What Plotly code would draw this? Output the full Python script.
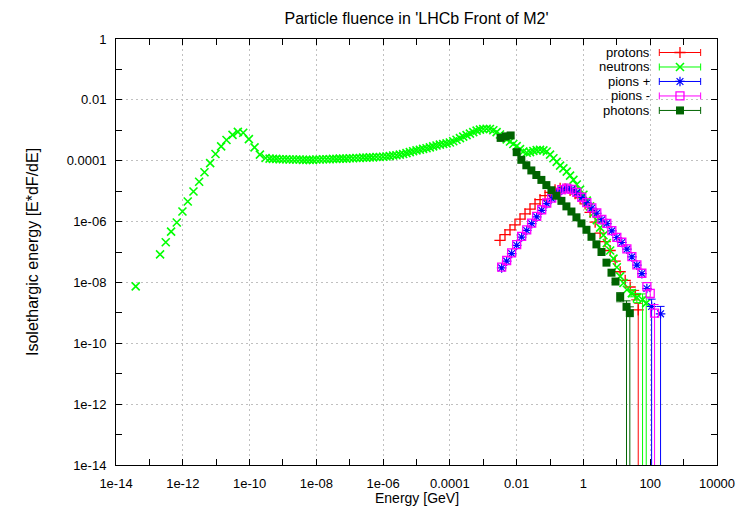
import plotly.graph_objects as go

# ---------------- data ----------------
neutron_energy = [
    3.89e-14, 2.09e-13, 3.09e-13, 4.47e-13, 6.61e-13, 9.77e-13, 1.41e-12, 2.09e-12, 3.09e-12, 4.47e-12,
    6.61e-12, 9.55e-12, 1.41e-11, 2.04e-11, 3.09e-11, 4.47e-11, 6.46e-11, 9.55e-11, 1.41e-10, 2.04e-10,
    3.02e-10,
    3.98e-10, 5.01e-10, 6.31e-10, 7.94e-10, 1.00e-9, 1.26e-9, 1.58e-9, 2.00e-9, 2.51e-9, 3.16e-9,
    3.98e-9, 5.01e-9, 6.31e-9, 7.94e-9, 1.00e-8, 1.26e-8, 1.58e-8, 2.00e-8, 2.51e-8, 3.16e-8,
    3.98e-8, 5.01e-8, 6.31e-8, 7.94e-8, 1.00e-7, 1.26e-7, 1.58e-7, 2.00e-7, 2.51e-7, 3.16e-7,
    3.98e-7, 5.01e-7, 6.31e-7, 7.94e-7, 1.00e-6,
    1.26e-6, 1.58e-6, 2.00e-6, 2.51e-6, 3.16e-6, 3.98e-6, 5.01e-6, 6.31e-6, 7.94e-6, 1.00e-5,
    1.26e-5, 1.58e-5, 2.00e-5, 2.51e-5, 3.16e-5, 3.98e-5, 5.01e-5, 6.31e-5, 7.94e-5, 1.00e-4,
    1.26e-4, 1.58e-4, 2.00e-4, 2.51e-4, 3.16e-4, 3.98e-4, 5.01e-4, 6.31e-4, 7.94e-4, 1.00e-3,
    1.26e-3, 1.58e-3, 2.00e-3, 2.51e-3, 3.16e-3, 3.98e-3, 5.01e-3, 6.31e-3, 7.94e-3, 1.00e-2,
    1.26e-2, 1.58e-2, 2.00e-2, 2.51e-2, 3.16e-2, 3.98e-2, 5.01e-2, 6.31e-2, 7.94e-2, 0.100,
    0.126, 0.158, 0.200, 0.251, 0.316, 0.398, 0.501, 0.631, 0.794, 1.00,
    1.26, 1.58, 2.00, 2.51, 3.16, 3.98, 5.01, 6.31, 7.94, 10.0,
    12.6, 15.8, 20.0,
]
neutron_fluence = [
    7.41e-9, 8.32e-8, 2.09e-7, 4.68e-7, 9.33e-7, 2.14e-6, 4.57e-6, 9.77e-6, 2.04e-5, 4.17e-5,
    8.32e-5, 1.66e-4, 2.95e-4, 4.79e-4, 7.08e-4, 8.91e-4, 8.32e-4, 5.13e-4, 2.75e-4, 1.58e-4,
    1.23e-4,
    1.17e-4, 1.15e-4, 1.15e-4, 1.12e-4, 1.12e-4, 1.12e-4, 1.10e-4, 1.10e-4, 1.10e-4, 1.10e-4,
    1.07e-4, 1.07e-4, 1.07e-4, 1.07e-4, 1.10e-4, 1.10e-4, 1.12e-4, 1.12e-4, 1.12e-4, 1.15e-4,
    1.15e-4, 1.17e-4, 1.17e-4, 1.17e-4, 1.20e-4, 1.20e-4, 1.23e-4, 1.23e-4, 1.26e-4, 1.26e-4,
    1.29e-4, 1.29e-4, 1.32e-4, 1.32e-4, 1.35e-4,
    1.38e-4, 1.41e-4, 1.48e-4, 1.51e-4, 1.58e-4, 1.66e-4, 1.78e-4, 1.91e-4, 2.04e-4, 2.19e-4,
    2.29e-4, 2.45e-4, 2.57e-4, 2.75e-4, 2.95e-4, 3.16e-4, 3.39e-4, 3.55e-4, 3.72e-4, 3.98e-4,
    4.37e-4, 4.90e-4, 5.50e-4, 6.17e-4, 6.92e-4, 7.76e-4, 8.71e-4, 9.77e-4, 1.05e-3, 1.10e-3,
    1.12e-3, 1.10e-3, 1.00e-3, 8.71e-4, 7.24e-4, 6.03e-4, 5.01e-4, 4.27e-4, 3.55e-4, 3.02e-4,
    2.40e-4, 2.00e-4, 1.82e-4, 1.91e-4, 2.09e-4, 2.24e-4, 2.29e-4, 2.19e-4, 2.00e-4, 1.58e-4,
    1.20e-4, 9.12e-5, 6.92e-5, 5.62e-5, 4.37e-5, 3.24e-5, 2.34e-5, 1.66e-5, 1.12e-5, 7.59e-6,
    4.90e-6, 3.16e-6, 1.91e-6, 1.12e-6, 6.31e-7, 3.55e-7, 1.95e-7, 1.12e-7, 6.03e-8, 3.16e-8,
    1.58e-8, 9.55e-9, 5.75e-9,
]
neutron_tail_energy = [28.2, 39.8, 58.9, 75.9]
neutron_tail_fluence = [4.47e-9, 3.16e-9, 2.69e-9, 2.09e-9]
neutron_tail_err_plus = [1.3e-9, 1.2e-9, 1.5e-9, 1.2e-9]
neutron_tail_err_minus = [1.1e-9, 1.0e-9, 2.69e-9, 2.09e-9]

proton_energy = [
    3.16e-3, 4.47e-3, 6.31e-3, 8.91e-3, 1.26e-2, 1.78e-2, 2.51e-2, 3.55e-2, 5.01e-2, 7.08e-2,
    0.100, 0.141, 0.200, 0.282, 0.398, 0.562, 0.794, 1.12, 1.58, 2.24,
    3.16, 4.47, 6.31, 8.91, 12.6, 17.8, 25.1,
]
proton_fluence = [
    2.40e-7, 3.72e-7, 5.37e-7, 7.76e-7, 1.20e-6, 1.78e-6, 2.57e-6, 3.80e-6, 5.25e-6, 7.08e-6,
    9.12e-6, 1.10e-5, 1.23e-5, 1.20e-5, 1.05e-5, 8.32e-6, 6.03e-6, 3.80e-6, 2.00e-6, 9.55e-7,
    4.17e-7, 2.19e-7, 1.12e-7, 5.01e-8, 2.24e-8, 1.17e-8, 7.08e-9,
]
proton_tail_energy = [35.5, 43.7]
proton_tail_fluence = [3.98e-9, 1.26e-9]
proton_tail_err_plus = [1.5e-9, 0.8e-9]
proton_tail_err_minus = [1.3e-9, 1.26e-9]

pion_energy = [
    3.55e-3, 5.01e-3, 7.08e-3, 1.00e-2, 1.41e-2, 2.00e-2, 2.82e-2, 3.98e-2, 5.62e-2, 7.94e-2,
    0.112, 0.158, 0.224, 0.316, 0.447, 0.631, 0.891, 1.26, 1.78, 2.51,
    3.55, 5.01, 7.08, 10.0, 14.1, 20.0, 28.2, 39.8, 56.2, 79.4,
]
pion_minus_fluence = [
    3.16e-8, 5.25e-8, 9.33e-8, 1.74e-7, 3.24e-7, 5.37e-7, 8.91e-7, 1.48e-6, 2.45e-6, 4.07e-6,
    5.89e-6, 8.71e-6, 1.12e-5, 1.26e-5, 1.15e-5, 9.12e-6, 6.31e-6, 4.17e-6, 2.82e-6, 1.91e-6,
    1.17e-6, 8.71e-7, 5.01e-7, 3.02e-7, 2.09e-7, 1.26e-7, 7.08e-8, 3.80e-8, 2.00e-8, 7.24e-9,
]
pion_plus_fluence = [
    3.00e-8, 5.00e-8, 8.90e-8, 1.66e-7, 3.10e-7, 5.10e-7, 8.50e-7, 1.42e-6, 2.35e-6, 3.90e-6,
    5.70e-6, 8.40e-6, 1.08e-5, 1.22e-5, 1.12e-5, 8.90e-6, 6.20e-6, 4.10e-6, 2.78e-6, 1.88e-6,
    1.15e-6, 8.60e-7, 4.95e-7, 3.00e-7, 2.05e-7, 1.24e-7, 6.90e-8, 3.70e-8, 1.95e-8, 6.30e-9,
]
pion_minus_tail_energy = [100.0, 135.0]
pion_minus_tail_fluence = [4.37e-9, 9.8e-10]
pion_minus_tail_err_plus = [1.5e-9, 0.9e-9]
pion_minus_tail_err_minus = [1.3e-9, 9.8e-10]
pion_plus_tail_energy = [110.0, 204.0]
pion_plus_tail_fluence = [1.62e-9, 9.3e-10]
pion_plus_tail_err_plus = [1.2e-9, 0.7e-9]
pion_plus_tail_err_minus = [1.62e-9, 9.3e-10]

photon_energy = [
    3.31e-3, 4.68e-3, 6.61e-3, 1.00e-2, 1.38e-2, 1.95e-2, 2.75e-2, 3.89e-2, 5.50e-2, 7.76e-2,
    0.110, 0.155, 0.219, 0.309, 0.437, 0.617, 0.871, 1.23, 1.74, 2.45,
    3.47, 4.90, 6.92, 9.12,
]
photon_fluence = [
    5.62e-4, 6.31e-4, 6.76e-4, 1.91e-4, 1.07e-4, 7.08e-5, 4.79e-5, 3.39e-5, 2.34e-5, 1.58e-5,
    1.07e-5, 7.08e-6, 4.79e-6, 3.16e-6, 2.14e-6, 1.38e-6, 8.71e-7, 5.37e-7, 3.16e-7, 1.78e-7,
    1.00e-7, 4.47e-8, 2.09e-8, 1.07e-8,
]
photon_tail_energy = [12.6, 19.5, 24.5]
photon_tail_fluence = [3.31e-9, 1.58e-9, 9.77e-10]
photon_tail_err_plus = [1.3e-9, 0.9e-9, 0.6e-9]
photon_tail_err_minus = [1.0e-9, 1.58e-9, 9.77e-10]

x_tick_values = [1e-14, 1e-12, 1e-10, 1e-8, 1e-6, 1e-4, 1e-2, 1, 100, 10000]
x_tick_labels = ["1e-14", "1e-12", "1e-10", "1e-08", "1e-06", "0.0001", "0.01", "1", "100", "10000"]
y_tick_values = [1, 1e-2, 1e-4, 1e-6, 1e-8, 1e-10, 1e-12, 1e-14]
y_tick_labels = ["1", "0.01", "0.0001", "1e-06", "1e-08", "1e-10", "1e-12", "1e-14"]
x_minor_values = [1e-13, 1e-11, 1e-9, 1e-7, 1e-5, 1e-3, 1e-1, 10, 1000]
y_minor_values = [1e-1, 1e-3, 1e-5, 1e-7, 1e-9, 1e-11, 1e-13]

series_names = ["protons", "neutrons", "pions +", "pions -", "photons"]

# ---------------- styles ----------------
FONT = "Liberation Sans, Arial, Helvetica, sans-serif"
RED, GREEN, BLUE, MAGENTA, DKGREEN = "#ff0000", "#00ff00", "#0000ff", "#ff00ff", "#006400"

styles = {
    "protons": dict(symbol="cross-thin", color=RED, size=8, line=dict(width=1.3, color=RED)),
    "neutrons": dict(symbol="x-thin", color=GREEN, size=8, line=dict(width=1.6, color=GREEN)),
    "pions +": dict(symbol="asterisk", color=BLUE, size=8, line=dict(width=1.2, color=BLUE)),
    "pions -": dict(symbol="square-open", color=MAGENTA, size=8, line=dict(width=1.3, color=MAGENTA)),
    "photons": dict(symbol="square", color=DKGREEN, size=8, line=dict(width=0)),
}

# page is rendered with an 8px body margin -> figure is 8px smaller, plot area placed accordingly
W, H = 744, 502
ML, MR, MT, MB = 108, 35, 31, 45
PW, PH = W - ML - MR, H - MT - MB

fig = go.Figure()


def add_series(name, x, y, tx, ty, ep, em):
    st = styles[name]
    col = st["color"]
    em_draw = [min(m, v * 0.999999) for m, v in zip(em, ty)]
    fig.add_trace(go.Scatter(
        x=tx, y=ty, mode="markers", marker=st, showlegend=False, hoverinfo="skip",
        error_y=dict(type="data", symmetric=False, array=ep, arrayminus=em_draw,
                     color=col, thickness=1, width=4),
    ))
    fig.add_trace(go.Scatter(x=x, y=y, mode="markers", marker=st, name=name, showlegend=False))


add_series("protons", proton_energy, proton_fluence, proton_tail_energy, proton_tail_fluence,
           proton_tail_err_plus, proton_tail_err_minus)
add_series("neutrons", neutron_energy, neutron_fluence, neutron_tail_energy, neutron_tail_fluence,
           neutron_tail_err_plus, neutron_tail_err_minus)
add_series("pions +", pion_energy, pion_plus_fluence, pion_plus_tail_energy, pion_plus_tail_fluence,
           pion_plus_tail_err_plus, pion_plus_tail_err_minus)
add_series("pions -", pion_energy, pion_minus_fluence, pion_minus_tail_energy, pion_minus_tail_fluence,
           pion_minus_tail_err_plus, pion_minus_tail_err_minus)
add_series("photons", photon_energy, photon_fluence, photon_tail_energy, photon_tail_fluence,
           photon_tail_err_plus, photon_tail_err_minus)

# ---------------- gnuplot-style key (text left of the sample) ----------------
key_text_x = 0.890
key_sample_x = 0.9384
key_half = 0.0344
key_top = 0.9683
key_step = 0.034
for i, name in enumerate(series_names):
    yk = key_top - i * key_step
    st = styles[name]
    fig.add_trace(go.Scatter(
        x=[key_sample_x], y=[yk], xaxis="x2", yaxis="y2", mode="markers", marker=st,
        showlegend=False, hoverinfo="skip",
        error_x=dict(type="constant", value=key_half, color=st["color"], thickness=1, width=3.5),
    ))
    fig.add_annotation(x=key_text_x, y=yk, xref="paper", yref="paper", text=name,
                       showarrow=False, xanchor="right", yanchor="middle",
                       font=dict(family=FONT, size=13, color="black"),
                       borderpad=0)

axis_common = dict(
    type="log", showline=True, linecolor="black", linewidth=1, mirror="ticks",
    ticks="inside", ticklen=6, tickwidth=1, tickcolor="black",
    showgrid=True, gridcolor="#c0c0c0", griddash="2px,3px", gridwidth=1,
    zeroline=False, tickfont=dict(family=FONT, size=13, color="black"),
    ticklabelstandoff=6,
)

fig.update_layout(
    width=W, height=H,
    margin=dict(l=ML, r=MR, t=MT, b=MB),
    paper_bgcolor="white", plot_bgcolor="white",
    font=dict(family=FONT, size=13, color="black"),
    title=dict(text="Particle fluence in 'LHCb Front of M2'", x=0.5, xref="paper",
               y=1 - 10 / H, yref="container", xanchor="center", yanchor="middle",
               font=dict(family=FONT, size=16, color="black")),
    xaxis=dict(range=[-14, 4], tickmode="array", tickvals=x_tick_values, ticktext=x_tick_labels,
               minor=dict(tickmode="array", tickvals=x_minor_values, ticks="inside", ticklen=6,
                          tickcolor="black", showgrid=False),
               **axis_common),
    yaxis=dict(range=[-14, 0], tickmode="array", tickvals=y_tick_values, ticktext=y_tick_labels,
               minor=dict(tickmode="array", tickvals=y_minor_values, ticks="inside", ticklen=6,
                          tickcolor="black", showgrid=False),
               **axis_common),
    xaxis2=dict(overlaying="x", anchor="y2", range=[0, 1], visible=False, fixedrange=True),
    yaxis2=dict(overlaying="y", anchor="x2", range=[0, 1], visible=False, fixedrange=True),
    showlegend=False,
)

# axis titles (positions given in figure pixels, converted to plot-area fractions)
fig.add_annotation(x=0.5, y=(PH + MT - 490) / PH, xref="paper", yref="paper", text="Energy [GeV]",
                   showarrow=False, xanchor="center", yanchor="middle",
                   font=dict(family=FONT, size=14, color="black"))
fig.add_annotation(x=(24 - ML) / PW, y=0.5, xref="paper", yref="paper",
                   text="Isolethargic energy [E*dF/dE]", showarrow=False, textangle=-90,
                   xanchor="center", yanchor="middle",
                   font=dict(family=FONT, size=16, color="black"))

fig.write_html("out.html")
